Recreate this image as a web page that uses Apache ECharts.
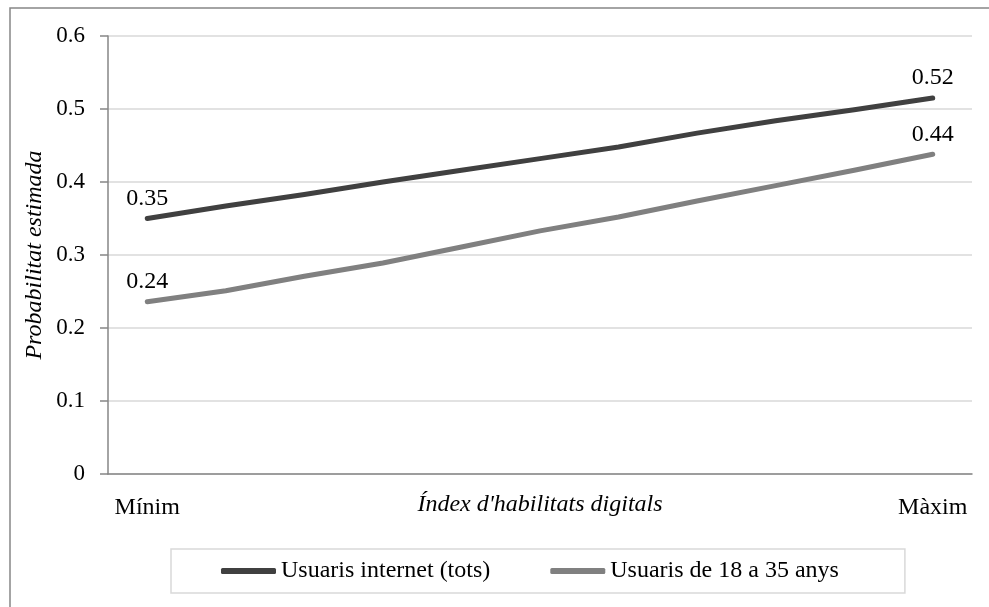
<!DOCTYPE html>
<html>
<head>
<meta charset="utf-8">
<script src="https://cdn.jsdelivr.net/npm/echarts@6/dist/echarts.min.js"></script>
<style>
  html, body { margin: 0; padding: 0; background: #fff; }
  #chart { width: 989px; height: 607px; }
</style>
</head>
<body>
<div id="chart"></div>
<script>
// categories: only the two ends of the index are labelled
const categories = ['Mínim', '', '', '', '', '', '', '', '', '', 'Màxim'];
const seriesNames = ['Usuaris internet (tots)', 'Usuaris de 18 a 35 anys'];
const allUsers = [0.350, 0.367, 0.383, 0.400, 0.416, 0.432, 0.448, 0.467, 0.484, 0.499, 0.515];
const youngUsers = [0.236, 0.251, 0.271, 0.289, 0.311, 0.333, 0.352, 0.374, 0.395, 0.416, 0.438];
const yTicks = [0, 0.1, 0.2, 0.3, 0.4, 0.5, 0.6];

const font = "'Liberation Serif', 'Times New Roman', serif";
const chart = echarts.init(document.getElementById('chart'));

const endLabel = (p) => {
    const last = categories.length - 1;
    return (p.dataIndex === 0 || p.dataIndex === last) ? p.value.toFixed(2) : '';
};

const makeSeries = (name, data, color) => ({
    name,
    type: 'line',
    data,
    symbol: 'circle',
    symbolSize: 0,
    showSymbol: true,
    lineStyle: { color, width: 5, cap: 'round', join: 'round' },
    itemStyle: { color },
    label: {
        show: true,
        position: 'top',
        distance: 8,
        offset: [8, 0],
        formatter: endLabel,
        color: '#000',
        fontFamily: font,
        fontSize: 24
    },
    labelLayout: { hideOverlap: false },
    emphasis: { disabled: true }
});

const option = {
    animation: false,
    backgroundColor: '#fff',
    textStyle: { fontFamily: font },
    graphic: [{
        type: 'rect',
        shape: { x: 10, y: 8, width: 1000, height: 700 },
        style: { fill: 'none', stroke: '#868686', lineWidth: 1.5 },
        silent: true
    }],
    grid: { left: 108, right: 17, top: 36, bottom: 133 },
    legend: {
        data: seriesNames,
        left: 171,
        top: 549,
        padding: [10, 66, 10, 50],
        itemGap: 60,
        itemWidth: 55,
        itemHeight: 6,
        icon: 'roundRect',
        borderColor: '#d9d9d9',
        borderWidth: 1.5,
        textStyle: { fontFamily: font, fontSize: 24, color: '#000' }
    },
    xAxis: {
        type: 'category',
        data: categories,
        boundaryGap: true,
        name: "Índex d'habilitats digitals",
        nameLocation: 'middle',
        nameGap: 19,
        nameMoveOverlap: false,
        nameTextStyle: { fontFamily: font, fontSize: 24, fontStyle: 'italic', color: '#000' },
        axisLine: { lineStyle: { color: '#868686', width: 1.5 } },
        axisTick: { show: false },
        axisLabel: { interval: 0, margin: 22, color: '#000', fontFamily: font, fontSize: 24 },
        splitLine: { show: false }
    },
    yAxis: {
        type: 'value',
        min: yTicks[0],
        max: yTicks[yTicks.length - 1],
        interval: 0.1,
        name: 'Probabilitat estimada',
        nameLocation: 'middle',
        nameGap: 61,
        nameMoveOverlap: false,
        nameTextStyle: { fontFamily: font, fontSize: 24, fontStyle: 'italic', color: '#000' },
        axisLine: { show: true, lineStyle: { color: '#868686', width: 1.5 } },
        axisTick: { show: true, length: 8, lineStyle: { color: '#868686', width: 1.5 } },
        axisLabel: {
            margin: 23,
            color: '#000',
            fontFamily: font,
            fontSize: 23,
            formatter: (v) => String(Math.round(v * 10) / 10)
        },
        splitLine: { lineStyle: { color: '#d9d9d9', width: 1.5 } }
    },
    series: [
        makeSeries(seriesNames[0], allUsers, '#404040'),
        makeSeries(seriesNames[1], youngUsers, '#808080')
    ]
};
chart.setOption(option);
</script>
</body>
</html>
